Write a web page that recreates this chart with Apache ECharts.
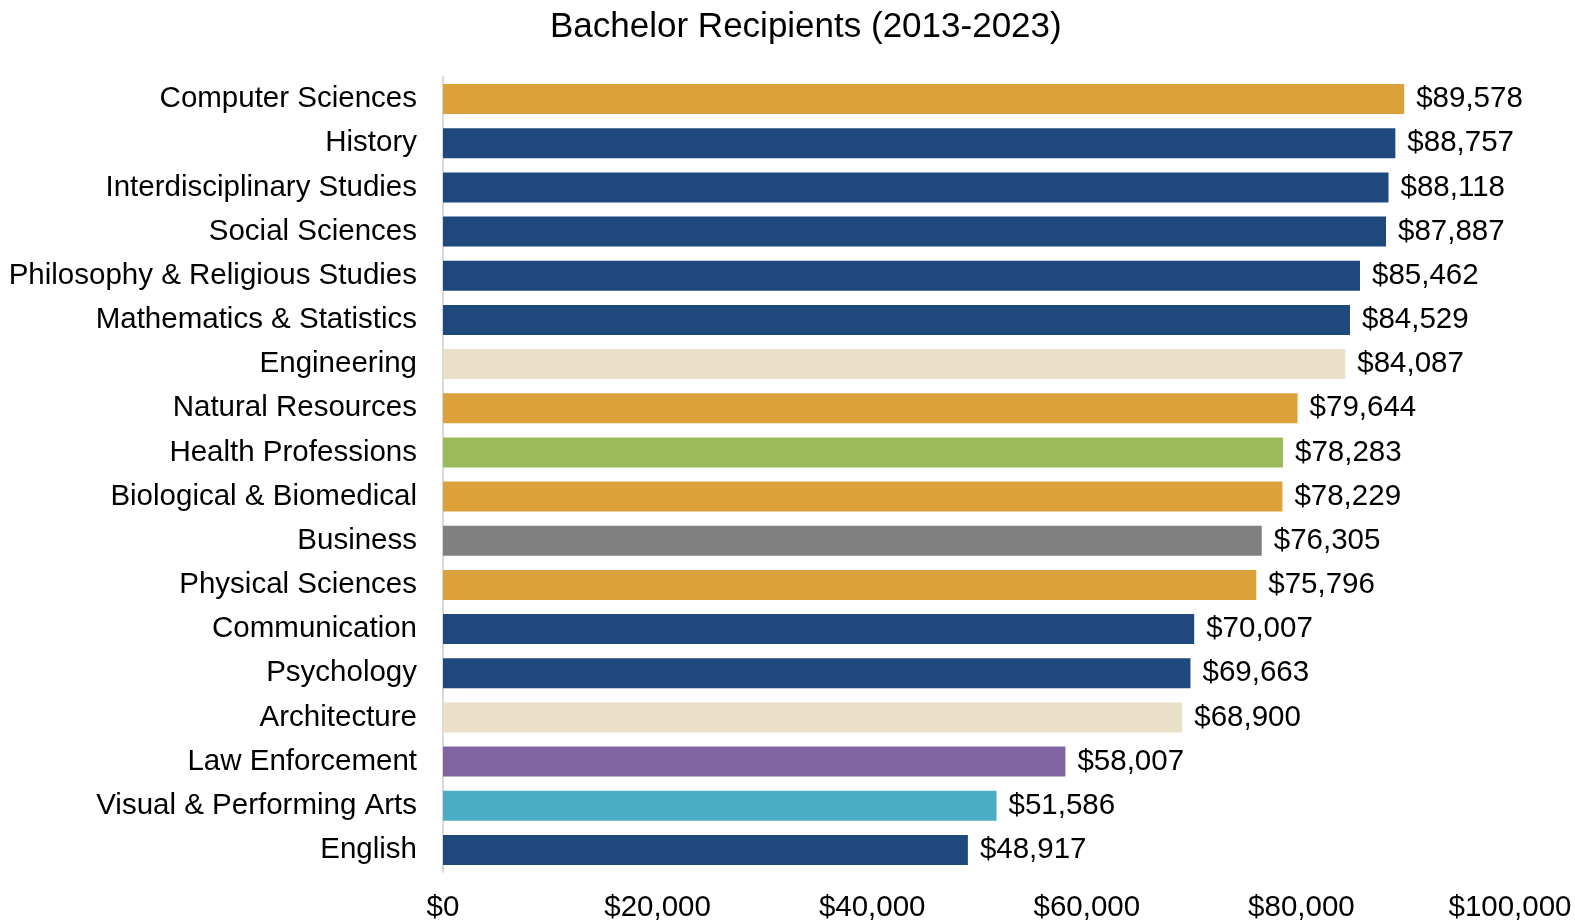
<!DOCTYPE html>
<html>
<head>
<meta charset="utf-8">
<script src="https://cdn.jsdelivr.net/npm/echarts@6/dist/echarts.min.js"></script>
<style>
html,body{margin:0;padding:0;background:#fff;}
#chart{width:1575px;height:923px;}
</style>
</head>
<body>
<div id="chart"></div>
<script>
const categories = [
  "Computer Sciences","History","Interdisciplinary Studies","Social Sciences",
  "Philosophy & Religious Studies","Mathematics & Statistics","Engineering",
  "Natural Resources","Health Professions","Biological & Biomedical","Business",
  "Physical Sciences","Communication","Psychology","Architecture",
  "Law Enforcement","Visual & Performing Arts","English"
];
const values = [89578,88757,88118,87887,85462,84529,84087,79644,78283,78229,76305,75796,70007,69663,68900,58007,51586,48917];
const barColors = [
  "#DBA13A","#1F497D","#1F497D","#1F497D","#1F497D","#1F497D","#EAE0C8",
  "#DBA13A","#9BBB59","#DBA13A","#808080","#DBA13A","#1F497D","#1F497D",
  "#EAE0C8","#8064A2","#4BACC6","#1F497D"
];
const xTicks = [0,20000,40000,60000,80000,100000];

const fmt = v => "$" + v.toLocaleString("en-US");
const font = "Liberation Sans, Arial, sans-serif";
const xMax = xTicks[xTicks.length-1];

const chart = echarts.init(document.getElementById("chart"), null, {renderer:"canvas"});
chart.setOption({
  animation:false,
  backgroundColor:"#fff",
  title:{
    text:"Bachelor Recipients (2013-2023)",
    left:545,
    top:5,
    textStyle:{fontFamily:font,fontSize:35,fontWeight:"normal",color:"#000"}
  },
  grid:{left:443,right:59,top:77,bottom:51,containLabel:false,outerBoundsMode:"none"},
  xAxis:{
    type:"value",
    min:xTicks[0],max:xMax,interval:20000,
    axisLine:{show:false},axisTick:{show:false},splitLine:{show:false},
    axisLabel:{
      formatter:v=> v===xMax ? "{last|"+fmt(v)+"}" : fmt(v),
      fontFamily:font,fontSize:29.5,color:"#000",margin:21,
      rich:{last:{fontFamily:font,fontSize:29.5,color:"#000",padding:[0,12,0,0]}}
    }
  },
  yAxis:{
    type:"category",
    inverse:true,
    data:categories,
    axisLine:{show:true,lineStyle:{color:"#D9D9D9",width:2}},
    axisTick:{show:false},
    axisLabel:{fontFamily:font,fontSize:29.5,color:"#000",margin:26}
  },
  series:[{
    type:"bar",
    data:values.map((v,i)=>({value:v,itemStyle:{color:barColors[i]}})),
    barCategoryGap:"32%",
    label:{
      show:true,position:"right",distance:12,
      formatter:p=>fmt(p.value),
      fontFamily:font,fontSize:29.5,color:"#000"
    }
  }]
});
</script>
</body>
</html>
